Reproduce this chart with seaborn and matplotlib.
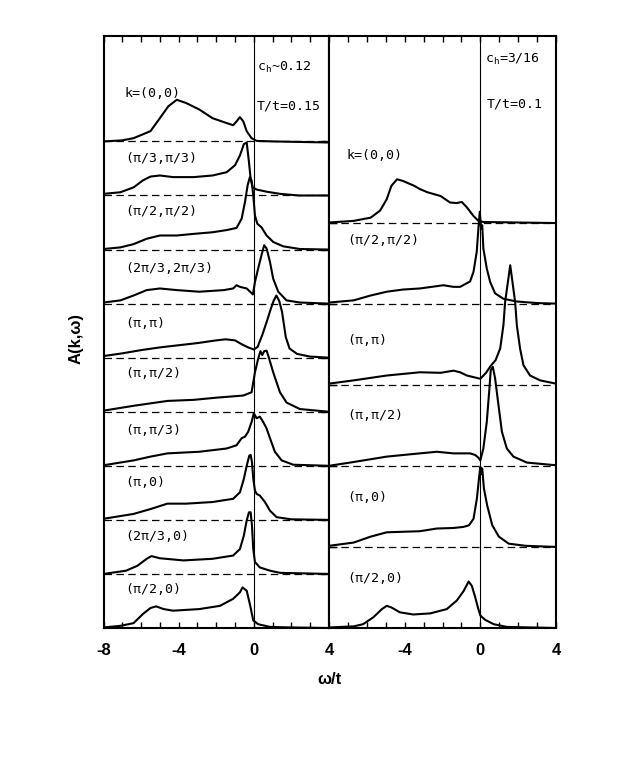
import numpy as np
import matplotlib
matplotlib.use("Agg")
import matplotlib.pyplot as plt
import seaborn as sns
from matplotlib.ticker import MultipleLocator

# ---------------- data ----------------
# Left panel: c_h ~ 0.12, T/t = 0.15 ; curves from top to bottom
left_labels = ["k=(0,0)", "(π/3,π/3)", "(π/2,π/2)", "(2π/3,2π/3)", "(π,π)",
               "(π,π/2)", "(π,π/3)", "(π,0)", "(2π/3,0)", "(π/2,0)"]
left_bases = [9, 8, 7, 6, 5, 4, 3, 2, 1, 0]

wL1 = [-8, -7, -6.4, -5.5, -5.0, -4.55, -4.1, -3.6, -2.9, -2.2, -1.45, -1.1, -0.92, -0.74, -0.56, -0.38, -0.12, 0.15, 1.0, 4.0]
aL1 = [0.0, 0.02, 0.06, 0.19, 0.43, 0.65, 0.77, 0.71, 0.59, 0.43, 0.34, 0.30, 0.37, 0.45, 0.37, 0.19, 0.06, 0.01, 0.0, -0.02]

wL2 = [-8, -7.1, -6.4, -5.9, -5.5, -5.0, -4.3, -3.2, -2.2, -1.45, -1.0, -0.74, -0.53, -0.38, -0.26, -0.17, -0.06, 0.15, 0.68, 1.4, 2.4, 4.0]
aL2 = [0.03, 0.06, 0.15, 0.28, 0.35, 0.37, 0.34, 0.34, 0.37, 0.43, 0.56, 0.74, 0.95, 0.98, 0.62, 0.31, 0.15, 0.11, 0.07, 0.03, 0.0, 0.0]

wL3 = [-8, -7.1, -6.4, -5.7, -5.0, -4.1, -3.2, -2.2, -1.45, -0.92, -0.65, -0.47, -0.33, -0.21, -0.12, -0.03, 0.06, 0.18, 0.41, 0.68, 1.03, 1.56, 2.45, 4.0]
aL3 = [0.01, 0.04, 0.10, 0.20, 0.26, 0.26, 0.29, 0.32, 0.36, 0.40, 0.57, 0.88, 1.19, 1.34, 1.28, 1.0, 0.63, 0.48, 0.41, 0.26, 0.14, 0.06, 0.01, 0.0]

wL4 = [-8, -7.1, -6.4, -5.7, -5.0, -4.1, -2.9, -1.6, -1.1, -0.92, -0.74, -0.38, -0.05, 0.06, 0.23, 0.41, 0.55, 0.68, 0.86, 1.03, 1.3, 1.74, 2.45, 4.0]
aL4 = [0.02, 0.06, 0.15, 0.25, 0.28, 0.25, 0.22, 0.25, 0.28, 0.34, 0.31, 0.28, 0.17, 0.40, 0.65, 0.90, 1.08, 1.02, 0.77, 0.46, 0.22, 0.06, 0.02, 0.0]

wL5 = [-8, -7, -6, -5, -4, -3, -2, -1.5, -1, -0.6, -0.3, 0, 0.2, 0.45, 0.7, 0.9, 1.05, 1.2, 1.35, 1.5, 1.7, 1.9, 2.3, 3, 4]
aL5 = [0.03, 0.08, 0.14, 0.19, 0.23, 0.27, 0.32, 0.34, 0.32, 0.24, 0.19, 0.15, 0.2, 0.42, 0.68, 0.9, 1.05, 1.15, 1.05, 0.85, 0.38, 0.17, 0.07, 0.02, 0.0]

wL6 = [-8, -6.4, -4.6, -3.2, -2.0, -0.56, -0.12, 0.06, 0.23, 0.35, 0.45, 0.55, 0.68, 0.8, 1.03, 1.39, 1.74, 2.45, 4.0]
aL6 = [0.02, 0.11, 0.2, 0.22, 0.26, 0.30, 0.36, 0.73, 0.98, 1.12, 1.05, 1.12, 1.13, 1.0, 0.73, 0.36, 0.17, 0.05, 0.0]

wL7 = [-8, -6.4, -5.5, -4.6, -2.9, -1.45, -0.92, -0.65, -0.47, -0.3, -0.12, 0.0, 0.15, 0.32, 0.5, 0.68, 0.86, 1.12, 1.48, 2.1, 4.0]
aL7 = [0.01, 0.10, 0.17, 0.23, 0.26, 0.32, 0.38, 0.51, 0.54, 0.63, 0.81, 0.97, 0.88, 0.91, 0.81, 0.69, 0.51, 0.26, 0.10, 0.02, 0.0]

wL8 = [-8, -6.4, -5.5, -4.6, -3.6, -2.2, -1.1, -0.74, -0.53, -0.38, -0.24, -0.17, -0.1, -0.03, 0.06, 0.15, 0.32, 0.59, 0.86, 1.21, 2.0, 4.0]
aL8 = [0.02, 0.11, 0.2, 0.3, 0.3, 0.33, 0.39, 0.51, 0.76, 1.0, 1.19, 1.2, 1.07, 0.76, 0.54, 0.48, 0.45, 0.33, 0.17, 0.05, 0.01, 0.0]

wL9 = [-8, -6.8, -6.2, -5.7, -5.45, -5.0, -3.75, -2.2, -1.1, -0.74, -0.53, -0.38, -0.26, -0.17, -0.1, -0.03, 0.06, 0.32, 0.86, 1.4, 4.0]
aL9 = [0.0, 0.06, 0.15, 0.28, 0.33, 0.29, 0.25, 0.28, 0.34, 0.46, 0.71, 0.99, 1.14, 1.14, 0.9, 0.46, 0.22, 0.12, 0.06, 0.02, 0.0]

wL10 = [-8, -7.1, -6.4, -5.9, -5.5, -5.2, -4.8, -4.3, -2.9, -1.8, -1.1, -0.74, -0.6, -0.38, -0.21, -0.03, 0.23, 0.86, 2.0, 4.0]
aL10 = [0.01, 0.04, 0.09, 0.26, 0.37, 0.40, 0.35, 0.32, 0.35, 0.41, 0.54, 0.66, 0.75, 0.69, 0.44, 0.14, 0.07, 0.02, 0.01, 0.0]

# Right panel: c_h = 3/16, T/t = 0.1
right_labels = ["k=(0,0)", "(π/2,π/2)", "(π,π)", "(π,π/2)", "(π,0)", "(π/2,0)"]
right_bases = [7.5, 6.0, 4.5, 3.0, 1.5, 0.0]

wR1 = [-8, -6.7, -5.8, -5.3, -4.95, -4.7, -4.4, -4.1, -3.5, -3.2, -2.8, -2.1, -1.6, -1.25, -0.98, -0.71, -0.36, -0.1, 0.16, 4.0]
aR1 = [0.0, 0.03, 0.09, 0.22, 0.43, 0.68, 0.80, 0.77, 0.68, 0.62, 0.56, 0.49, 0.37, 0.36, 0.38, 0.28, 0.12, 0.03, 0.01, -0.01]

wR2 = [-8, -6.7, -5.8, -4.95, -4.1, -3.2, -1.95, -1.42, -1.07, -0.54, -0.36, -0.19, -0.1, -0.03, 0.04, 0.1, 0.16, 0.34, 0.52, 0.78, 1.22, 1.9, 3.0, 4.0]
aR2 = [0.02, 0.06, 0.15, 0.22, 0.26, 0.28, 0.34, 0.31, 0.31, 0.41, 0.59, 0.96, 1.4, 1.7, 1.39, 1.45, 1.02, 0.65, 0.40, 0.19, 0.09, 0.04, 0.01, 0.0]

wR3 = [-8, -6.7, -4.95, -3.2, -2.1, -1.42, -1.07, -0.71, -0.36, 0.0, 0.3, 0.55, 0.8, 1.05, 1.22, 1.31, 1.58, 1.84, 1.93, 2.1, 2.28, 2.63, 3.16, 4.0]
aR3 = [0.02, 0.08, 0.17, 0.23, 0.22, 0.26, 0.23, 0.17, 0.14, 0.11, 0.22, 0.35, 0.45, 0.67, 1.1, 1.53, 2.21, 1.53, 1.1, 0.67, 0.36, 0.17, 0.08, 0.02]

wR4 = [-8, -6.7, -4.95, -3.2, -2.3, -1.42, -0.54, -0.27, -0.1, 0.0, 0.16, 0.34, 0.48, 0.55, 0.66, 0.78, 0.96, 1.14, 1.4, 1.75, 2.46, 4.0]
aR4 = [0.0, 0.07, 0.17, 0.23, 0.26, 0.23, 0.23, 0.2, 0.15, 0.1, 0.32, 0.81, 1.43, 1.77, 1.83, 1.62, 1.12, 0.63, 0.32, 0.17, 0.06, 0.01]

wR5 = [-8, -6.7, -5.8, -4.95, -4.1, -3.2, -2.3, -1.42, -0.89, -0.6, -0.36, -0.18, -0.07, 0.0, 0.05, 0.1, 0.19, 0.36, 0.63, 0.98, 1.5, 2.4, 4.0]
aR5 = [0.02, 0.08, 0.19, 0.27, 0.28, 0.29, 0.34, 0.35, 0.37, 0.40, 0.52, 0.9, 1.27, 1.48, 1.35, 1.45, 1.08, 0.77, 0.4, 0.19, 0.06, 0.02, 0.0]

wR6 = [-8, -6.7, -6.2, -5.65, -5.2, -4.95, -4.7, -4.25, -3.55, -2.65, -1.77, -1.24, -0.89, -0.62, -0.45, -0.27, -0.13, 0.0, 0.26, 0.71, 1.4, 4.0]
aR6 = [0.01, 0.03, 0.07, 0.2, 0.35, 0.41, 0.38, 0.29, 0.25, 0.27, 0.35, 0.51, 0.68, 0.86, 0.78, 0.57, 0.38, 0.23, 0.15, 0.07, 0.02, 0.0]

x_ticks = [-8, -4, 0, 4]
x_ticklabels_left = ["-8", "-4", "0", "4"]
x_ticklabels_right = ["", "-4", "0", "4"]
left_info = ["c$_\\mathregular{h}$~0.12", "T/t=0.15"]
right_info = ["c$_\\mathregular{h}$=3/16", "T/t=0.1"]

left_curves = [(wL1, aL1), (wL2, aL2), (wL3, aL3), (wL4, aL4), (wL5, aL5),
               (wL6, aL6), (wL7, aL7), (wL8, aL8), (wL9, aL9), (wL10, aL10)]
right_curves = [(wR1, aR1), (wR2, aR2), (wR3, aR3), (wR4, aR4), (wR5, aR5), (wR6, aR6)]

# ---------------- style ----------------
sns.set_theme(style="ticks")
plt.rcParams['font.family'] = ['DejaVu Sans Mono', 'DejaVu Sans']
plt.rcParams['mathtext.fontset'] = 'dejavusans'
plt.rcParams['axes.linewidth'] = 1.5
plt.rcParams['text.color'] = 'black'
plt.rcParams['xtick.color'] = 'black'
plt.rcParams['ytick.color'] = 'black'
plt.rcParams['xtick.labelcolor'] = 'black'
plt.rcParams['axes.edgecolor'] = 'black'
SANS = ['Liberation Sans', 'DejaVu Sans']

W, H = 632, 763
fig = plt.figure(figsize=(W / 100, H / 100), dpi=100)
fig.patch.set_facecolor("white")
bot = (H - 628) / H
hgt = (628 - 36) / H
axL = fig.add_axes([103.5 / W, bot, 225.5 / W, hgt])
axR = fig.add_axes([329 / W, bot, 227 / W, hgt])

YMAX = 10.95
left_label_y = [9.89, 8.69, 7.70, 6.65, 5.63, 4.70, 3.65, 2.69, 1.70, 0.72]
right_label_y = [8.74, 7.17, 5.31, 3.93, 2.41, 0.91]


def draw_panel(ax, curves, bases, labels, label_y, label_x):
    for (w, a), b in zip(curves, bases):
        if b > 0:
            ax.axhline(b, ls=(0, (6, 3.5)), lw=0.9, color="black", zorder=1)
        sns.lineplot(x=w, y=np.asarray(a) + b, ax=ax, color="black", lw=1.5,
                     estimator=None, sort=False, zorder=3)
    for lab, yy in zip(labels, label_y):
        ax.text(label_x, yy, lab, ha="left", va="center", fontsize=9.5, color="black")
    ax.axvline(0, color="black", lw=0.8, zorder=2)
    ax.set_xlim(-8, 4)
    ax.set_ylim(0, YMAX)
    ax.set_xticks(x_ticks)
    ax.xaxis.set_minor_locator(MultipleLocator(1))
    ax.tick_params(axis="x", which="both", direction="in", top=True, bottom=True,
                   length=4.5, width=1.0, color="black", labelcolor="black")
    ax.tick_params(axis="x", which="major", pad=11)
    ax.set_yticks([b for b in bases if b > 0])
    ax.set_xlabel("")
    ax.set_ylabel("")
    for s in ax.spines.values():
        s.set_linewidth(1.5)
        s.set_color("black")
    ax.set_facecolor("white")


draw_panel(axL, left_curves, left_bases, left_labels, left_label_y, -6.86)
draw_panel(axR, right_curves, right_bases, right_labels, right_label_y, -7.05)

axL.set_xticklabels(x_ticklabels_left, fontweight="bold", family=SANS, fontsize=12, color="black")
axR.set_xticklabels(x_ticklabels_right, fontweight="bold", family=SANS, fontsize=12, color="black")
axL.tick_params(axis="y", left=False, right=True, labelleft=False, labelright=False,
                direction="in", length=6, width=1.0, color="black")
axR.tick_params(axis="y", left=True, right=False, labelleft=False, labelright=False,
                direction="in", length=6, width=1.0, color="black")

axL.text(0.16, 10.37, left_info[0], ha="left", va="center", fontsize=9.5, color="black")
axL.text(0.16, 9.65, left_info[1], ha="left", va="center", fontsize=9.5, color="black")
axR.text(0.25, 10.52, right_info[0], ha="left", va="center", fontsize=9.5, color="black")
axR.text(0.36, 9.70, right_info[1], ha="left", va="center", fontsize=9.5, color="black")

fig.text(329.5 / W, 1 - 680 / H, "ω/t", ha="center", va="center", fontsize=12,
         fontweight="bold", family=SANS, color="black")
fig.text(76 / W, 1 - 338 / H, "A(k,ω)", ha="center", va="center", rotation=90,
         fontsize=12, fontweight="bold", family=SANS, color="black")

fig.savefig("out.png", dpi=100, facecolor="white")
